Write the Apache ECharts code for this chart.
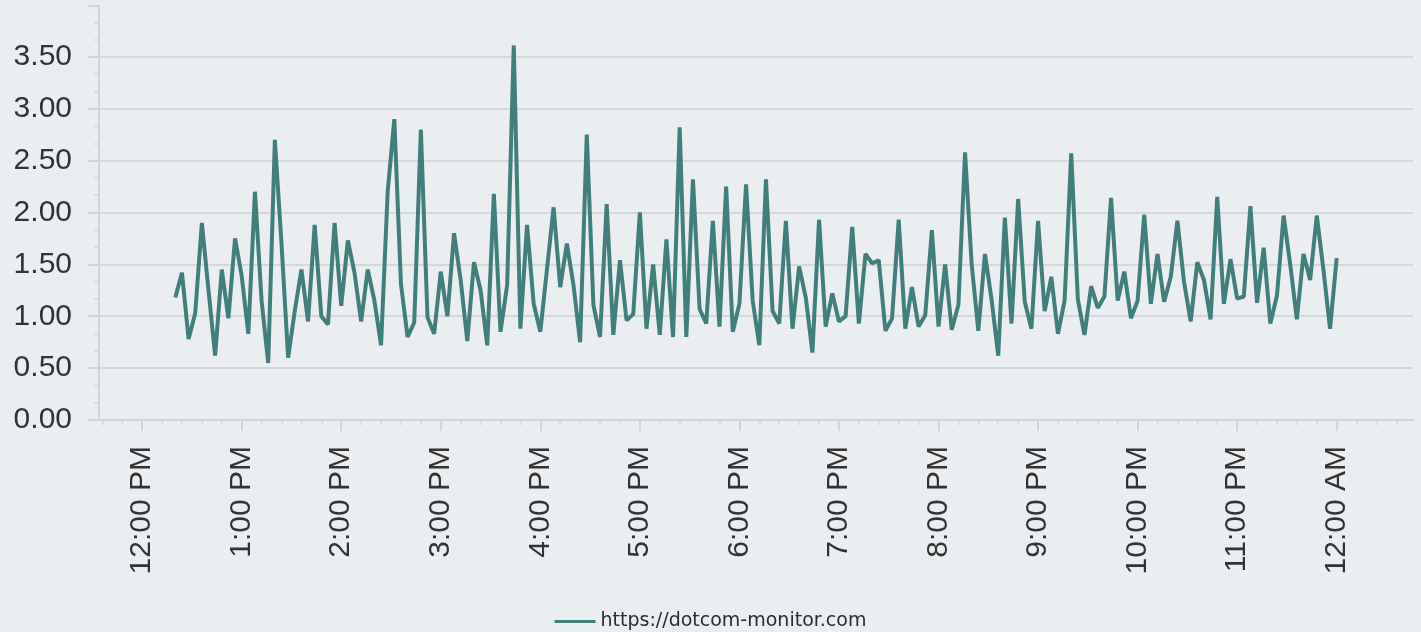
<!DOCTYPE html>
<html>
<head>
<meta charset="utf-8">
<script src="https://cdn.jsdelivr.net/npm/echarts@6/dist/echarts.min.js"></script>
<style>
  html, body { margin: 0; padding: 0; background: #eaeef1; }
  #chart { width: 1421px; height: 632px; }
</style>
</head>
<body>
<div id="chart"></div>
<script>
// samples every 4 minutes, from 12:20 PM to 12:00 AM
const seriesName = "https://dotcom-monitor.com";
const startTime = new Date(2024, 0, 1, 12, 20).getTime();
const stepMinutes = 4;
const axisMin = new Date(2024, 0, 1, 11, 34).getTime();
const axisMax = new Date(2024, 0, 2, 0, 46).getTime();
const minorTickStart = new Date(2024, 0, 1, 11, 36).getTime();
const minorTickMinutes = 12;

const responseTimes = [
  1.18, 1.42, 0.78, 1.03, 1.90, 1.25, 0.62, 1.45, 0.98, 1.75,
  1.39, 0.83, 2.20, 1.15, 0.55, 2.70, 1.70, 0.60, 1.05, 1.45,
  0.95, 1.88, 1.00, 0.92, 1.90, 1.10, 1.73, 1.42, 0.95, 1.45,
  1.15, 0.72, 2.20, 2.90, 1.31, 0.80, 0.94, 2.80, 0.99, 0.83,
  1.43, 1.00, 1.80, 1.35, 0.76, 1.52, 1.25, 0.72, 2.18, 0.85,
  1.30, 3.61, 0.88, 1.88, 1.12, 0.85, 1.45, 2.05, 1.28, 1.70,
  1.30, 0.75, 2.75, 1.11, 0.80, 2.08, 0.82, 1.54, 0.96, 1.02,
  2.00, 0.88, 1.50, 0.82, 1.74, 0.80, 2.82, 0.80, 2.32, 1.07,
  0.93, 1.92, 0.90, 2.25, 0.85, 1.12, 2.27, 1.15, 0.72, 2.32,
  1.05, 0.93, 1.92, 0.88, 1.48, 1.18, 0.65, 1.93, 0.90, 1.22,
  0.95, 1.00, 1.86, 0.93, 1.60, 1.51, 1.54, 0.86, 0.98, 1.93,
  0.88, 1.28, 0.90, 1.01, 1.83, 0.90, 1.50, 0.87, 1.11, 2.58,
  1.50, 0.86, 1.60, 1.16, 0.62, 1.95, 0.93, 2.13, 1.14, 0.88,
  1.92, 1.05, 1.38, 0.83, 1.15, 2.57, 1.16, 0.82, 1.29, 1.08,
  1.19, 2.14, 1.15, 1.43, 0.98, 1.15, 1.98, 1.12, 1.60, 1.14,
  1.38, 1.92, 1.33, 0.95, 1.52, 1.35, 0.97, 2.15, 1.12, 1.55,
  1.17, 1.19, 2.06, 1.13, 1.66, 0.93, 1.20, 1.97, 1.50, 0.97,
  1.60, 1.35, 1.97, 1.45, 0.88, 1.56
];

const points = responseTimes.map((v, i) => [startTime + i * stepMinutes * 60000, v]);

// short ticks every 12 minutes, drawn on a second (hidden) x axis
const minorTicks = [];
for (let t = minorTickStart; t <= axisMax; t += minorTickMinutes * 60000) {
  minorTicks.push(t);
}

function timeLabel(value) {
  const d = new Date(value);
  let h = d.getHours();
  const ampm = h < 12 ? "AM" : "PM";
  h = h % 12;
  if (h === 0) h = 12;
  const m = String(d.getMinutes()).padStart(2, "0");
  return h + ":" + m + " " + ampm;
}

const chart = echarts.init(document.getElementById("chart"));
chart.setOption({
  backgroundColor: "#eaeef1",
  animation: false,
  grid: { left: 99, right: 8, top: 6, bottom: 212, containLabel: false },
  legend: {
    data: [seriesName],
    top: 607,
    left: "center",
    icon: "rect",
    itemWidth: 41,
    itemHeight: 3,
    itemGap: 10,
    textStyle: { color: "#2b2b3a", fontSize: 19, fontFamily: "DejaVu Sans" },
  },
  xAxis: [
    {
      type: "time",
      min: axisMin,
      max: axisMax,
      minInterval: 3600 * 1000,
      maxInterval: 3600 * 1000,
      axisLine: { lineStyle: { color: "#cfd6db", width: 2 } },
      axisTick: { show: true, length: 11, lineStyle: { color: "#cfd6db", width: 2 } },
      splitLine: { show: false },
      axisLabel: {
        rotate: 90,
        margin: 26,
        fontSize: 30,
        fontFamily: "Liberation Sans",
        color: "#333",
        formatter: timeLabel,
        showMinLabel: false,
        showMaxLabel: false,
      },
    },
    {
      type: "time",
      position: "bottom",
      min: axisMin,
      max: axisMax,
      axisLine: { show: false },
      axisTick: { show: true, length: 5, customValues: minorTicks, lineStyle: { color: "#cfd6db", width: 1.5 } },
      axisLabel: { show: false },
      splitLine: { show: false },
    },
  ],
  yAxis: {
    type: "value",
    min: 0,
    max: 3.99,
    interval: 0.5,
    axisLine: { show: true, lineStyle: { color: "#cfd6db", width: 2 } },
    axisTick: { show: true, length: 11, lineStyle: { color: "#cfd6db", width: 2 } },
    minorTick: { show: true, splitNumber: 3, length: 5, lineStyle: { color: "#cfd6db", width: 1.5 } },
    splitLine: { show: true, showMaxLine: false, showMinLine: false, lineStyle: { color: "#d3d8dc", width: 2 } },
    axisLabel: {
      margin: 27,
      fontSize: 30,
      fontFamily: "Liberation Sans",
      color: "#333",
      showMaxLabel: false,
      formatter: (v) => v.toFixed(2),
    },
  },
  series: [
    {
      name: seriesName,
      type: "line",
      data: points,
      showSymbol: false,
      symbol: "none",
      lineStyle: { color: "#417f7c", width: 4, join: "bevel" },
      itemStyle: { color: "#417f7c" },
    },
  ],
});
</script>
</body>
</html>
